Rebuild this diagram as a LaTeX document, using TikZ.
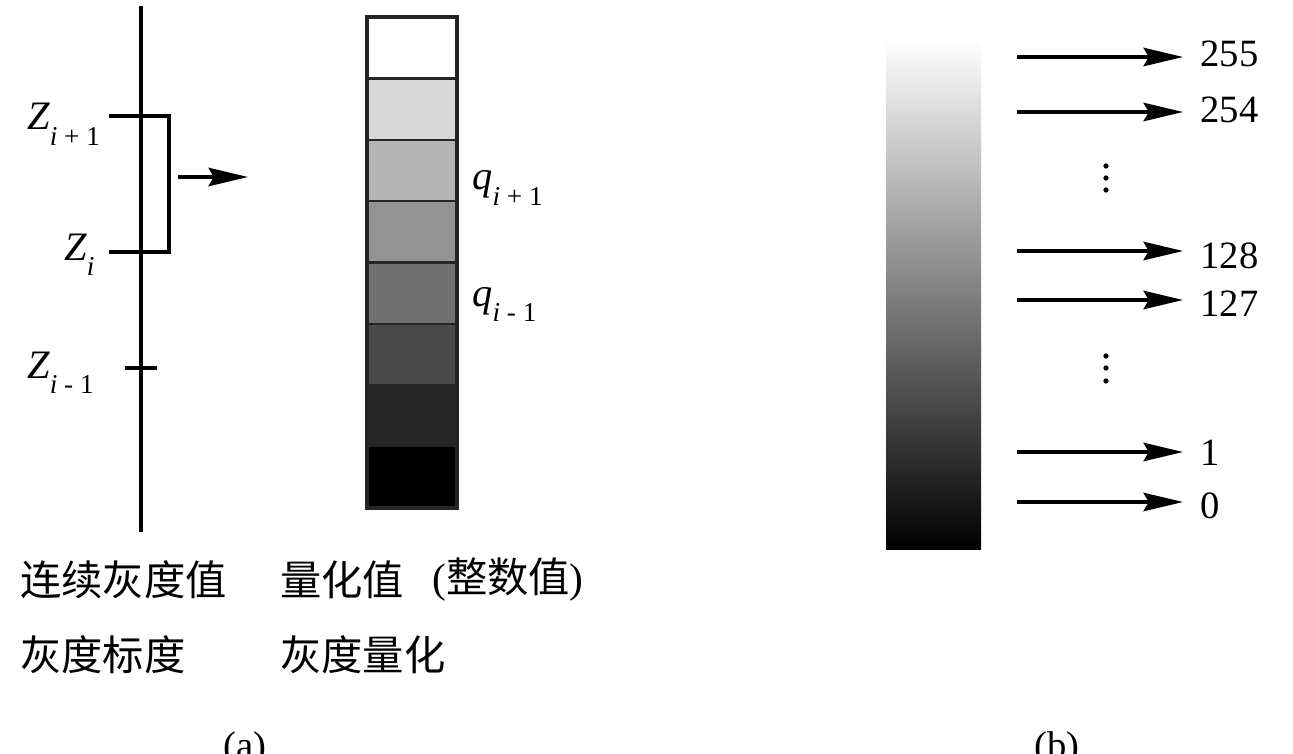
\documentclass[tikz,border=0pt]{standalone}
\usepackage{fontspec}
\setmainfont{Liberation Serif}
\newfontfamily\cjk{Noto Sans CJK SC}
\usetikzlibrary{arrows.meta}
\tikzset{
  axisline/.style={line width=2pt, line cap=butt},
  arr/.style={line width=2pt, -{Stealth[length=22.5pt, width=10.5pt, inset=3pt]}},
  num/.style={inner sep=0pt, anchor=base west, font=\fontsize{22}{22}\selectfont},
  cjklab/.style={inner sep=0pt, anchor=west, font=\fontsize{23.5}{23.5}\selectfont\cjk},
  zlab/.style={inner sep=0pt, anchor=base west},
  cell/.style={draw=black!85, line width=1.4pt},
  vdot/.style={fill=black, inner sep=0pt, minimum size=3pt, circle}
}
\newcommand{\bigit}[1]{{\fontsize{23}{23}\selectfont\itshape #1}}
\newcommand{\subsc}[1]{\raisebox{-9pt}{\fontsize{15.5}{15.5}\selectfont #1}}
\begin{document}
\begin{tikzpicture}[x=0.02cm, y=-0.02cm]
\useasboundingbox (0,0) rectangle (1293,753);

% ---------- (a) left axis ----------
\coordinate (axtop) at (141,6);
\coordinate (axbot) at (141,532);
\draw[axisline] (axtop) -- (axbot);
\coordinate (b1) at (109,116);
\coordinate (b2) at (169,116);
\coordinate (b3) at (169,252);
\coordinate (b4) at (109,252);
\draw[axisline, line join=miter] (b1) -- (b2) -- (b3) -- (b4);
\coordinate (t1) at (125,368);
\coordinate (t2) at (157,368);
\draw[axisline] (t1) -- (t2);

\node[zlab] (zip1) at (27,130) {\bigit{Z}\subsc{\itshape i\upshape\ + 1}};
\node[zlab] (zi) at (64,260) {\bigit{Z}\subsc{\itshape i}};
\node[zlab] (zim1) at (27,378) {\bigit{Z}\subsc{\itshape i\upshape\ - 1}};

\coordinate (as) at (178,177);
\coordinate (ae) at (248,177);
\draw[arr] (as) -- (ae);

% ---------- quantized bar ----------
\foreach \g [count=\k from 0] in {100,85,71,58,44,29,15,0} {
  \pgfmathsetmacro{\ya}{17+61.375*\k}
  \pgfmathsetmacro{\yb}{17+61.375*(\k+1)}
  \fill[black!\the\numexpr100-\g\relax] (367,\ya) rectangle (457,\yb);
}
\foreach \k in {1,...,6} {
  \pgfmathsetmacro{\ya}{17+61.375*\k}
  \draw[cell] (367,\ya) -- (457,\ya);
}
\draw[line width=1.8pt, draw=black!85] (367,17) rectangle (457,508);

\node[zlab] (qip1) at (472,190) {\bigit{q}\subsc{\itshape i\upshape\ + 1}};
\node[zlab] (qim1) at (472,306) {\bigit{q}\subsc{\itshape i\upshape\ - 1}};

% ---------- labels (a) ----------
\node[cjklab] (l1) at (20,580) {连续灰度值};
\node[cjklab] (l2) at (280,580) {量化值};
\node[cjklab] (l3) at (432,580) {{\rmfamily (}整数值{\rmfamily )}};
\node[cjklab] (l4) at (20,655) {灰度标度};
\node[cjklab] (l5) at (280,655) {灰度量化};
\node[inner sep=0pt, anchor=north, font=\fontsize{22}{22}\selectfont] (capa) at (245,731) {(a)};

% ---------- (b) gradient ----------
\shade[top color=white, bottom color=black] (886,40) rectangle (981,549);

\foreach \nm/\ya/\yl in {255/57/67, 254/112/123, 128/251/268, 127/300/316, 1/452/465, 0/502/518} {
  \node[num] (n\nm) at (1200,\yl) {\nm};
  \coordinate (s\nm) at (1017,\ya);
  \coordinate (e\nm) at (1183,\ya);
  \draw[arr] (s\nm) -- (e\nm);
}
\foreach \yy in {166,178,190, 356,368,381} {
  \node[vdot] (d\yy) at (1106,\yy) {};
}
\node[inner sep=0pt, anchor=north, font=\fontsize{22}{22}\selectfont] (capb) at (1057,731) {(b)};
\end{tikzpicture}
\end{document}
